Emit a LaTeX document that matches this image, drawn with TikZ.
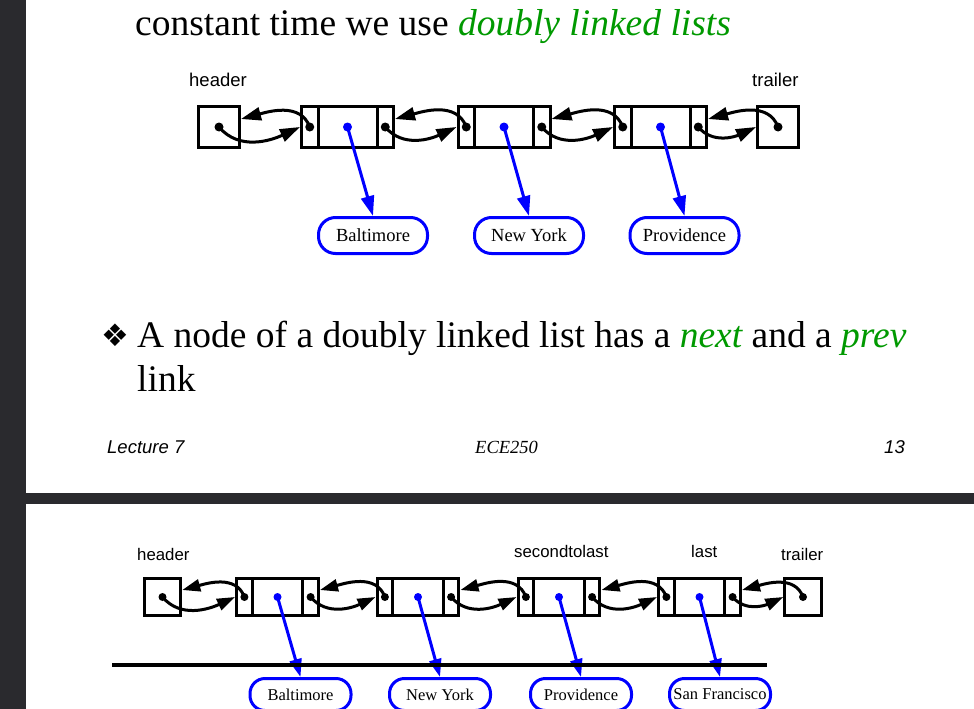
\documentclass[tikz,border=0pt]{standalone}
\usepackage{fontspec}
\setmainfont{Liberation Serif}
\setsansfont{Liberation Sans}
\newfontfamily\bulletfont{DejaVu Sans}
\usetikzlibrary{arrows.meta}
\definecolor{slidegreen}{RGB}{0,153,0}
\definecolor{viewer}{RGB}{42,42,46}

\tikzset{
    cell/.style = {draw, line width = 3pt, inner sep = 0pt},
    tcell/.style = {cell, minimum height = 41pt},
    bcell/.style = {cell, minimum height = 37pt},
    link/.style = {line width = 3pt, -{Triangle[length = 20pt, width = 13pt]}},
    blink/.style = {line width = 3pt, -{Triangle[length = 18pt, width = 12pt]}},
    city/.style = {draw = blue, line width = 3pt, inner xsep = 2pt, inner ysep = 0pt},
    slide/.style = {font = \fontsize{37.5}{44}\selectfont, inner sep = 0pt, anchor = base west},
    lbl/.style = {inner sep = 0pt, anchor = base west}
}

\begin{document}
\begin{tikzpicture}[ x = 1pt, y = -1pt ]
    \useasboundingbox (0,0) rectangle (974,709);
    \fill[white] (0,0) rectangle (974,709);
    \fill[viewer] (0,0) rectangle (26,709);
    \fill[viewer] (26,493) rectangle (974,504);

    \node[slide] (title) at (135,36) {constant time we use \textcolor{slidegreen}{\itshape doubly linked lists}};
    \node[inner sep = 0pt, font = \bulletfont\fontsize{31}{31}\selectfont] (bullet) at (115,335) {❖};
    \node[slide] (point) at (137,347) {A node of a doubly linked list has a \textcolor{slidegreen}{\itshape next} and a \textcolor{slidegreen}{\itshape prev}};
    \node[slide] (point2) at (137,391) {link};

    \node[lbl, font = \sffamily\itshape\fontsize{18.5}{20}\selectfont] (lecture) at (107,453) {Lecture 7};
    \node[lbl, font = \itshape\fontsize{18.5}{20}\selectfont] (course) at (475,453) {ECE250};
    \node[lbl, anchor = base east, font = \sffamily\itshape\fontsize{18.5}{20}\selectfont] (page) at (905,453) {13};

    % upper list
    \tikzset{lbl/.append style = {font = \sffamily\fontsize{18.5}{20}\selectfont}}
    \node[lbl] (theader) at (189,86) {header};
    \node[lbl] (ttrailer) at (752,86) {trailer};

    \node[tcell, minimum width = 41pt] (th) at (219,127) {};
    \foreach \i/\x in {1/300,2/456.5,3/613} {
        \node[tcell, minimum width = 16.5pt] (tp\i) at (\x+9.75,127) {};
        \node[tcell, minimum width = 59pt] (te\i) at (\x+47.5,127) {};
        \node[tcell, minimum width = 16.5pt] (tn\i) at (\x+85.25,127) {};
    }
    \node[tcell, minimum width = 41pt] (tt) at (778,127) {};

    \foreach \i/\x/\c in {1/373/Baltimore,2/529/New York,3/684.5/Providence}
        \node[city, rounded corners = 17pt, minimum width = 109pt, minimum height = 36pt,
              font = \fontsize{18.5}{20}\selectfont] (tc\i) at (\x,235.5) {\c};

    \draw[link] (th.center) to[out = -50, in = 205] (tp1.west);
    \draw[link] (tp1.center) to[out = 110, in = 15] ([yshift = 8pt]th.east);
    \foreach \i/\j in {1/2,2/3} {
        \draw[link] (tn\i.center) to[out = -50, in = 205] (tp\j.west);
        \draw[link] (tp\j.center) to[out = 110, in = 15] ([yshift = 8pt]tn\i.east);
    }
    \draw[link] (tn3.center) to[out = -50, in = 205] (tt.west);
    \draw[link] (tt.center) to[out = 110, in = 15] ([yshift = 8pt]tn3.east);
    \foreach \i in {1,2,3}
        \draw[link, blue] (te\i.center) -- (tc\i.north);

    \foreach \n in {th,tp1,tn1,tp2,tn2,tp3,tn3,tt}
        \fill (\n) circle (4.5pt);
    \foreach \i in {1,2,3}
        \fill[blue] (te\i) circle (4.5pt);

    % lower list
    \tikzset{lbl/.append style = {font = \sffamily\fontsize{16.8}{18}\selectfont}}
    \node[lbl] (bheader) at (137,560) {header};
    \node[lbl] (bsecond) at (514,557) {secondtolast};
    \node[lbl] (blast) at (691,557) {last};
    \node[lbl] (btrailer) at (781,560) {trailer};

    \node[bcell, minimum width = 36.5pt] (bh) at (162.5,597) {};
    \foreach \i/\x in {1/235,2/375.5,3/516.5,4/657} {
        \node[bcell, minimum width = 15.75pt] (bp\i) at (\x+9.4,597) {};
        \node[bcell, minimum width = 50.5pt] (be\i) at (\x+42.5,597) {};
        \node[bcell, minimum width = 15.75pt] (bn\i) at (\x+75.6,597) {};
    }
    \node[bcell, minimum width = 36.5pt] (bt) at (803,597) {};

    \foreach \i/\x/\c in {1/300.5/Baltimore,2/440/New York,3/581/Providence,4/720/San Francisco}
        \node[city, rounded corners = 15pt, minimum width = 101pt, minimum height = 32pt,
              font = \fontsize{16.5}{18}\selectfont] (bc\i) at (\x,694.5) {\c};

    \draw[blink] (bh.center) to[out = -50, in = 205] (bp1.west);
    \draw[blink] (bp1.center) to[out = 110, in = 15] ([yshift = 7pt]bh.east);
    \foreach \i/\j in {1/2,2/3,3/4} {
        \draw[blink] (bn\i.center) to[out = -50, in = 205] (bp\j.west);
        \draw[blink] (bp\j.center) to[out = 110, in = 15] ([yshift = 7pt]bn\i.east);
    }
    \draw[blink] (bn4.center) to[out = -50, in = 205] (bt.west);
    \draw[blink] (bt.center) to[out = 110, in = 15] ([yshift = 7pt]bn4.east);
    \foreach \i in {1,2,3,4}
        \draw[blink, blue] (be\i.center) -- (bc\i.north);

    \foreach \n in {bh,bp1,bn1,bp2,bn2,bp3,bn3,bp4,bn4,bt}
        \fill (\n) circle (4pt);
    \foreach \i in {1,2,3,4}
        \fill[blue] (be\i) circle (4pt);

    \coordinate (barL) at (112,665);
    \coordinate (barR) at (767,665);
    \draw[line width = 3.5pt] (barL) -- (barR);

  \end{tikzpicture}
\end{document}
